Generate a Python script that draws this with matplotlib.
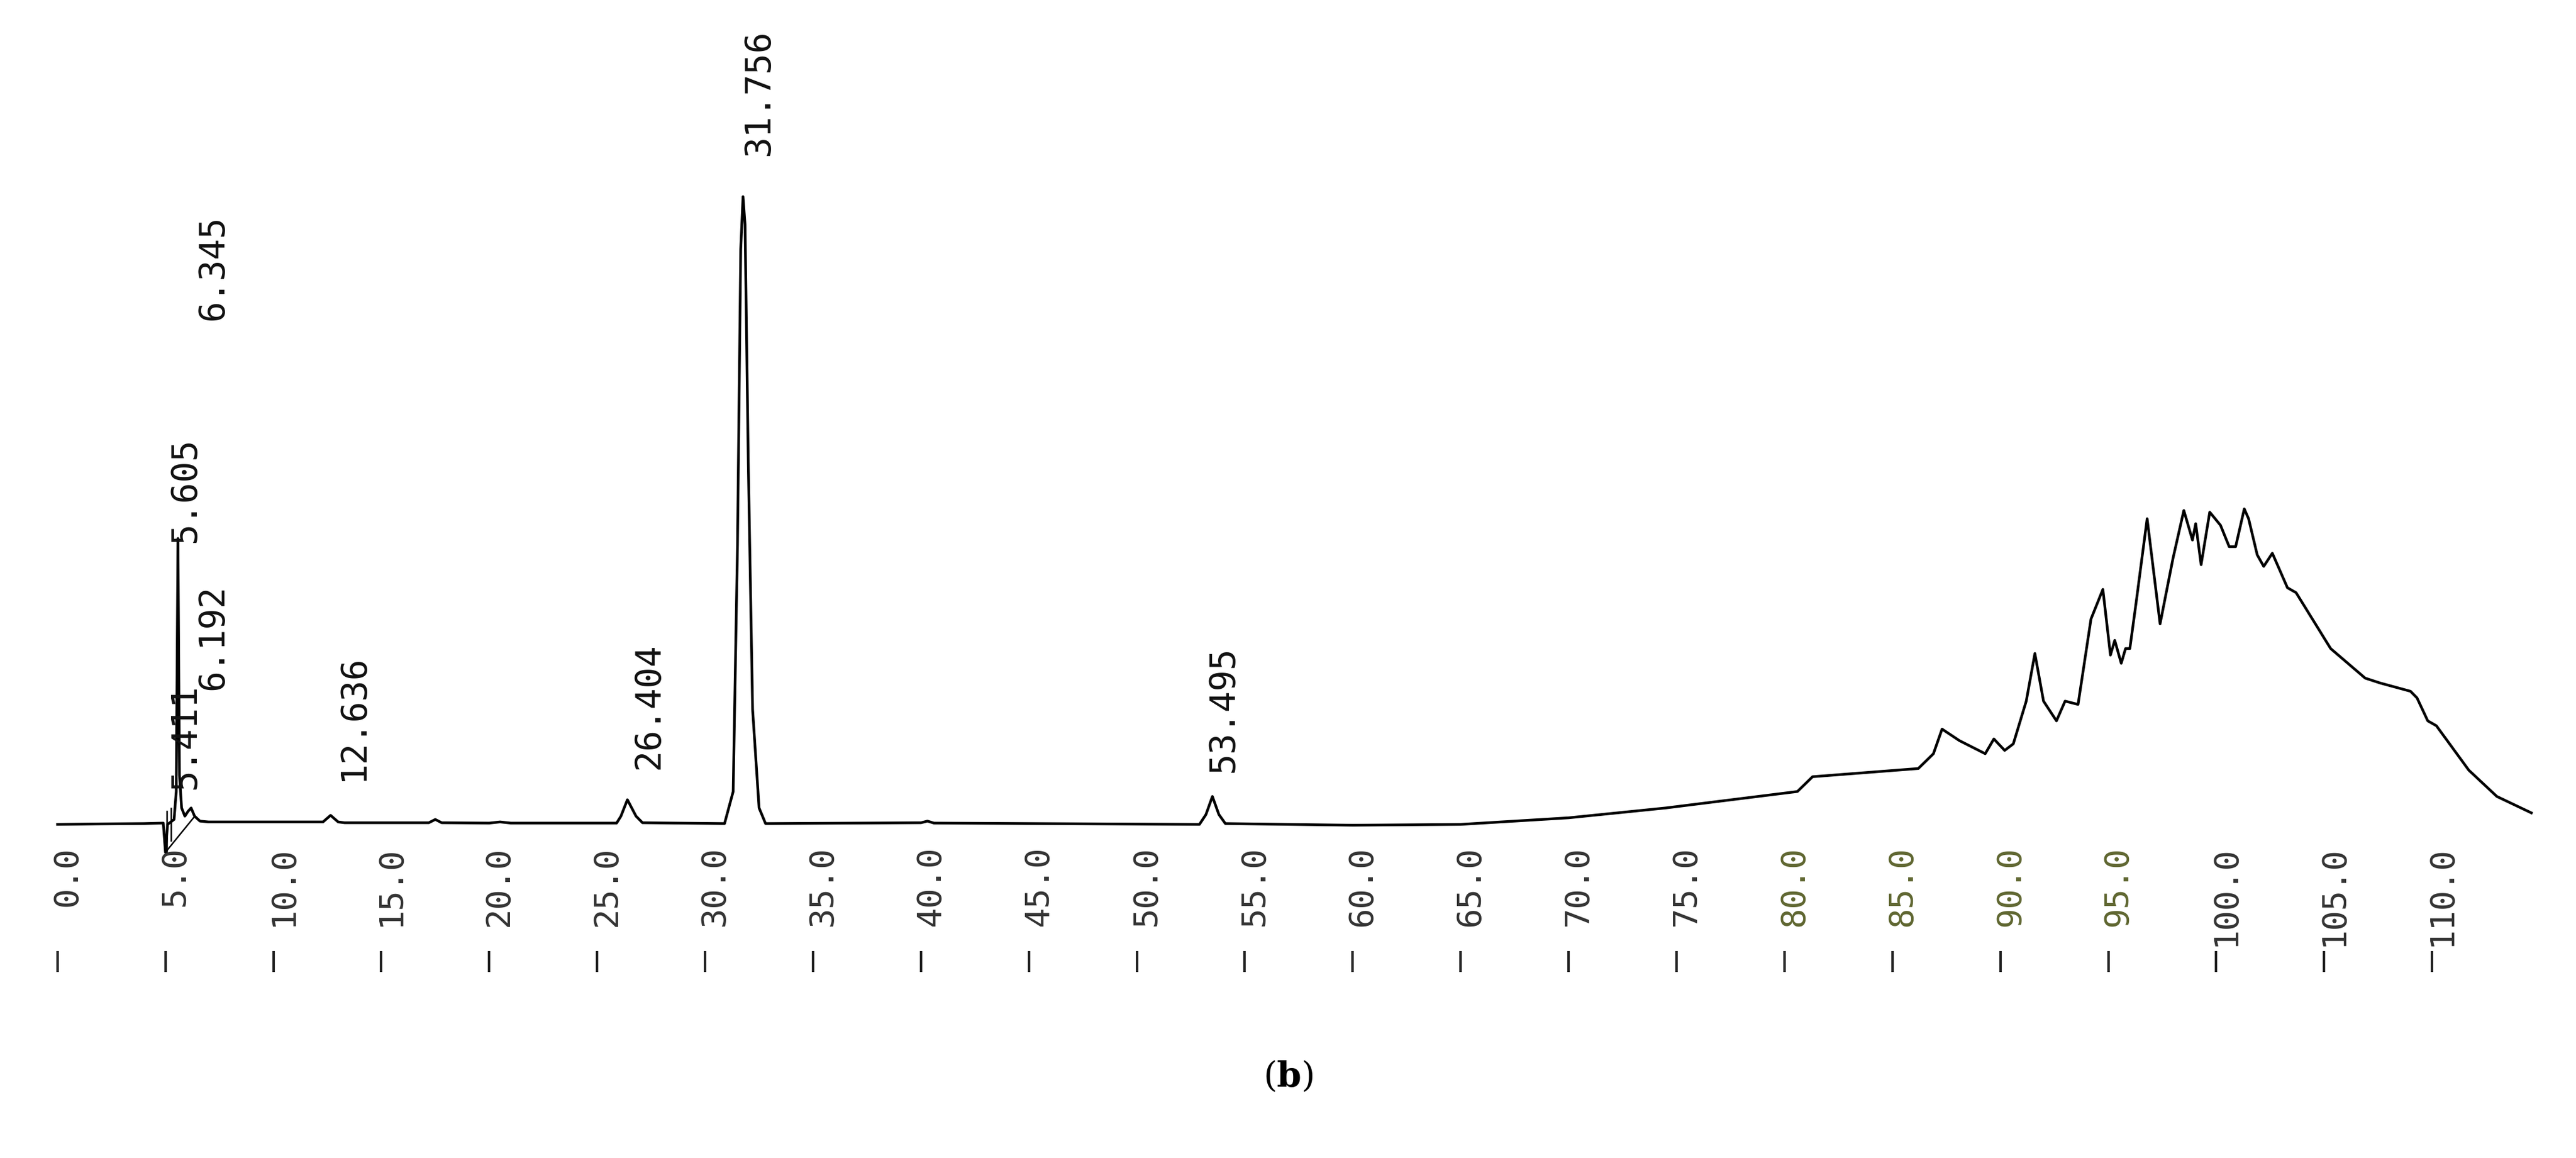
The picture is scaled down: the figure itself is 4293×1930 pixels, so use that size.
import matplotlib
matplotlib.use("Agg")
import matplotlib.pyplot as plt
plt.rcParams["mathtext.fontset"] = "dejavuserif"

# chromatogram trace (retention time in min, signal in arbitrary units)
time = [0, 2, 4, 4.9, 5.0, 5.1, 5.4, 5.5, 5.58, 5.65, 5.75, 5.9, 6.05, 6.19, 6.35, 6.6, 7, 10,
        12.3, 12.65, 13, 13.3, 17.2, 17.5, 17.8, 20, 20.5, 21, 25.9, 26.1, 26.4, 26.8, 27.1,
        30.9, 31.3, 31.5, 31.65, 31.756, 31.85, 32.0, 32.2, 32.5, 32.8,
        40, 40.3, 40.6, 52.9, 53.2, 53.5, 53.8, 54.1, 60, 65, 70,
        74.5, 80.6, 81.3, 86.2, 86.9, 87.3, 88.1, 89.3, 89.7, 90.2, 90.6, 91.2, 91.6, 92.0,
        92.6, 93.0, 93.6, 94.2, 94.75, 95.1, 95.3, 95.6, 95.8, 96.0, 96.3, 96.8, 97.4, 98.0,
        98.5, 98.9, 99.05, 99.3, 99.7, 100.2, 100.6, 100.9, 101.3, 101.5, 101.9, 102.2, 102.6,
        103.3, 103.7, 105.3, 106.9, 107.6, 109.0, 109.3, 109.8, 110.2, 111.7, 113.0, 114.6]
signal = [0, 0.3, 0.5, 0.8, -17, 0, 3, 20, 174, 30, 10, 5, 8, 10, 5, 2, 1.5, 1.5,
          1.5, 5.5, 1.5, 1, 1, 3, 1, 0.8, 1.5, 0.8, 0.8, 5, 15, 5, 1,
          0.5, 20, 170, 350, 382, 365, 220, 70, 10, 0.5,
          1, 2, 0.8, 0, 6, 17, 6, 0.5, -0.5, 0, 4,
          10, 20, 29, 34, 43, 58, 51, 43, 52, 45, 49, 75, 104, 75,
          63, 75, 73, 125, 143, 103, 112, 98, 107, 107, 136, 186, 122, 162,
          191, 173, 183, 158, 190, 182, 169, 169, 192, 186, 164, 157, 165,
          144, 141, 107, 89, 86, 81, 77, 63, 60, 33, 17, 7]

peak_labels = ["31.756", "6.345", "5.605", "6.192", "5.411", "12.636", "26.404", "53.495"]
peak_label_x = [32.5, 7.2, 5.9, 7.2, 5.9, 13.7, 27.4, 54.0]
peak_label_y = [407, 307, 172, 82, 22, 27, 34, 32]

tick_values = [0, 5, 10, 15, 20, 25, 30, 35, 40, 45, 50, 55, 60, 65, 70, 75, 80, 85, 90, 95, 100, 105, 110]
tick_labels = ["0.0", "5.0", "10.0", "15.0", "20.0", "25.0", "30.0", "35.0", "40.0", "45.0", "50.0",
               "55.0", "60.0", "65.0", "70.0", "75.0", "80.0", "85.0", "90.0", "95.0", "100.0", "105.0", "110.0"]

W, H = 4293, 1931
fig = plt.figure(figsize=(W / 100, H / 100), dpi=100)
dispW, dispH = 1568, 705
x0 = 35 / dispW
xw = (13.14 * 110) / dispW
ymin, ymax = -20, 400
bottom = (dispH - 502 + ymin) / dispH
ax = fig.add_axes([x0, bottom, xw, (ymax - ymin) / dispH])
ax.set_xlim(0, 110)
ax.set_ylim(ymin, ymax)
ax.axis("off")

ax.plot(time, signal, color="black", lw=3.2, clip_on=False)
# integration marks near solvent front
ax.plot([5.0, 6.3], [-17, 4], color="black", lw=1.8)
ax.plot([5.05, 5.05], [-17, 8], color="black", lw=1.8)
ax.plot([5.25, 5.25], [-10, 10], color="black", lw=1.8)

mono = "DejaVu Sans Mono"
for lab, xx, yy in zip(peak_labels, peak_label_x, peak_label_y):
    ax.text(xx, yy, lab, rotation=90, ha="center", va="bottom", fontsize=42,
            family=mono, color="#111111")

for v, lab in zip(tick_values, tick_labels):
    col = "#5f6630" if 80 <= v <= 95 else "#333333"
    ax.text(v + 0.45, -13, lab, rotation=90, ha="center", va="top", fontsize=40,
            family=mono, color=col, clip_on=False)
ax.vlines(tick_values, -90, -77, color="#222222", lw=3, clip_on=False)

fig.text(0.5, 1 - 655 / dispH, r"($\mathbf{b}$)", ha="center", va="center", fontsize=42,
         family="DejaVu Serif")
fig.savefig("out.png", dpi=100, facecolor="white")
